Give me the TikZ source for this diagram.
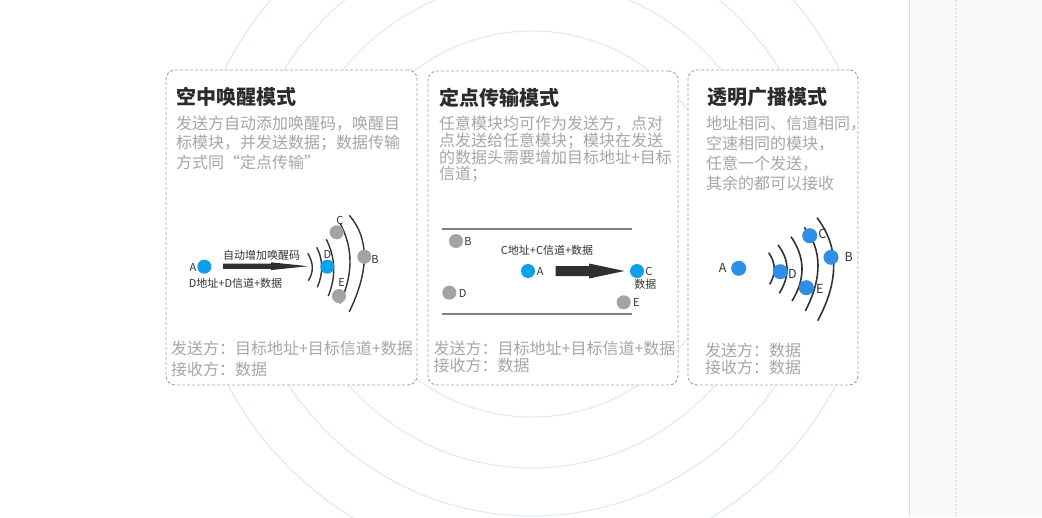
\documentclass[tikz,border=0pt]{standalone}
\usepackage{fontspec}
\setmainfont{Noto Sans CJK SC}
\usetikzlibrary{calc}
\definecolor{bgcirc}{HTML}{D8E9F8}
\definecolor{boxc}{HTML}{A3A3A3}
\definecolor{titlec}{HTML}{2B2B2B}
\definecolor{descc}{HTML}{A6A6A6}
\definecolor{labc}{HTML}{333333}
\definecolor{blueA}{HTML}{0BA0EA}
\definecolor{blueB}{HTML}{2D8FE6}
\definecolor{dotgray}{HTML}{A3A3A3}
\definecolor{linegray}{HTML}{808080}
\definecolor{sidebg}{HTML}{F9F9F9}
\definecolor{sideln}{HTML}{DEDEDE}
\definecolor{sidedot}{HTML}{E4E4E4}
\definecolor{wavec}{HTML}{333333}
\definecolor{arrc}{HTML}{303030}
\newcommand{\myfs}[1]{\fontsize{#1}{#1}\selectfont}
\newcommand{\wavearc}[4][]{%
  \coordinate (wT) at #2; \coordinate (wM) at #3; \coordinate (wB) at #4;
  \coordinate (wQ) at ($2*(wM)-0.5*(wT)-0.5*(wB)$);
  \draw[wave,#1] (wT) .. controls ($(wT)!0.6667!(wQ)$) and ($(wB)!0.6667!(wQ)$) .. (wB);}
\begin{document}
\begin{tikzpicture}[x=1pt,y=-1pt,
  panel/.style={draw=boxc, dash pattern=on 3pt off 2pt, line width=0.9pt, rounded corners=9pt, fill=white, inner sep=0pt},
  txt/.style={anchor=west, inner sep=0pt, outer sep=0pt},
  title/.style={txt, font=\myfs{20pt}\bfseries, text=titlec},
  desc/.style={txt, font=\myfs{16pt}, text=descc},
  lbl/.style={inner sep=0pt, font=\myfs{11pt}, text=labc},
  lblb/.style={inner sep=0pt, font=\myfs{12.5pt}, text=labc},
  bdot/.style={circle, fill=blueA, minimum size=14pt, inner sep=0pt},
  bdotb/.style={circle, fill=blueB, minimum size=15pt, inner sep=0pt},
  gdot/.style={circle, fill=dotgray, minimum size=14pt, inner sep=0pt},
  wave/.style={draw=wavec, line width=1.4pt}
]
\useasboundingbox (0,0) rectangle (1042,517);
\clip (0,0) rectangle (1042,517);
\fill[white] (0,0) rectangle (1042,517);
\fill[sidebg] (910,0) rectangle (1042,517);
\draw[sideln, line width=1pt] (909.5,0) -- (909.5,517);
\draw[sidedot, line width=1.5pt, dash pattern=on 1.5pt off 2.5pt] (956,0) -- (956,517);
\begin{scope}
\clip (0,0) rectangle (858,517);
\foreach \r in {193,244,292,344} \draw[bgcirc, line width=1pt] (532,224) circle[radius=\r pt];
\end{scope}

% panels
\node[panel, minimum width=251pt, minimum height=315pt] (p1) at (291.5,227.5) {};
\node[panel, minimum width=250pt, minimum height=314pt] (p2) at (553,228) {};
\node[panel, minimum width=170pt, minimum height=315pt] (p3) at (773,227.5) {};

% panel 1 texts
\node[title] (t1) at (176,96.7) {空中唤醒模式};
\node[desc] (d11) at (176,123.3) {发送方自动添加唤醒码，唤醒目};
\node[desc] (d12) at (176,143.3) {标模块，并发送数据；数据传输};
\node[desc] (d13) at (176,162.7) {方式同“定点传输”};
\node[desc] (f11) at (171,348.3) {发送方：目标地址+目标信道+数据};
\node[desc] (f12) at (171,369) {接收方：数据};

% panel 2 texts
\node[title] (t2) at (439,98.3) {定点传输模式};
\node[desc] (d21) at (439,123.3) {任意模块均可作为发送方，点对};
\node[desc] (d22) at (439,140.7) {点发送给任意模块；模块在发送};
\node[desc] (d23) at (439,157.3) {的数据头需要增加目标地址+目标};
\node[desc] (d24) at (439,174) {信道；};
\node[desc] (f21) at (433.7,348.3) {发送方：目标地址+目标信道+数据};
\node[desc] (f22) at (433.7,365) {接收方：数据};

% panel 3 texts
\node[title] (t3) at (707,96.7) {透明广播模式};
\node[desc] (d31) at (706,123.3) {地址相同、信道相同，};
\node[desc] (d32) at (706,144) {空速相同的模块，};
\node[desc] (d33) at (706,164) {任意一个发送，};
\node[desc] (d34) at (706,183.3) {其余的都可以接收};
\node[desc] (f31) at (705,350.7) {发送方：数据};
\node[desc] (f32) at (705,367.7) {接收方：数据};

% panel 1 diagram
\wavearc{(307.7,253.3)}{(312.3,267.3)}{(308.3,280.7)}
\wavearc{(316.7,247.3)}{(321.7,266.7)}{(317.3,287.3)}
\wavearc{(326.3,239.3)}{(333.7,267.3)}{(328.3,296)}
\wavearc{(340,223.3)}{(350,261.7)}{(340,303.3)}
\wavearc{(349.3,215.3)}{(364.3,256.7)}{(349.3,311.7)}
\fill[arrc] (223,263.6) -- (271,263.6) -- (271,262.3) -- (308,266.2) -- (271,270.1) -- (271,268.8) -- (223,268.8) -- cycle;
\node[bdot] (a1) at (204.3,266.7) {};
\node[lbl] (la1) at (193,267.5) {A};
\node[gdot] (c1) at (336.7,232.3) {};
\node[lbl] (lc1) at (340,220.7) {C};
\node[gdot] (b1) at (364.3,256.7) {};
\node[lbl] (lb1) at (375,259.3) {B};
\node[bdot] (dd1) at (327.3,266.7) {};
\node[lbl] (ld1) at (327.5,254.5) {D};
\node[gdot] (e1) at (339,296) {};
\node[lbl] (le1) at (341.7,282) {E};
\node[lbl] (m11) at (261.7,255) {自动增加唤醒码};
\node[lbl] (m12) at (235.5,283.3) {D地址+D信道+数据};

% panel 2 diagram
\coordinate (l2a) at (442,229); \coordinate (l2b) at (631.5,229);
\coordinate (l2c) at (442,314); \coordinate (l2d) at (631.5,314);
\draw[linegray, line width=2pt] (l2a) -- (l2b);
\draw[linegray, line width=2pt] (l2c) -- (l2d);
\fill[arrc] (555.5,266) -- (589,266) -- (589,263.5) -- (624.5,271) -- (589,278.5) -- (589,276) -- (555.5,276) -- cycle;
\node[gdot] (b2) at (456,241) {};
\node[lbl] (lb2) at (468,241.7) {B};
\node[gdot] (d2) at (449.3,292.7) {};
\node[lbl] (ld2) at (462.7,293.3) {D};
\node[bdot] (a2) at (528,271) {};
\node[lbl] (la2) at (540.3,271) {A};
\node[bdot] (c2) at (637,271) {};
\node[lbl] (lc2) at (649,271) {C};
\node[lbl] (m22) at (645.3,284.3) {数据};
\node[gdot] (e2) at (623.7,302.3) {};
\node[lbl] (le2) at (636.3,302.3) {E};
\node[lbl] (m21) at (547,250.7) {C地址+C信道+数据};

% panel 3 diagram
\wavearc[line width=1.6pt]{(768.7,252.7)}{(774.3,268.3)}{(769.7,284.3)}
\wavearc[line width=1.6pt]{(778,245)}{(787,268.3)}{(779.3,293.3)}
\wavearc[line width=1.6pt]{(791,236.7)}{(802,268.3)}{(792,301)}
\wavearc[line width=1.6pt]{(804.3,227.3)}{(818,265)}{(805.3,311)}
\wavearc[line width=1.6pt]{(817,217.7)}{(833.7,265)}{(817.7,320.7)}
\node[bdotb] (a3) at (738.7,268.3) {};
\node[lblb] (la3) at (722.7,267.7) {A};
\node[bdotb] (d3) at (780.3,271.7) {};
\node[lblb] (ld3) at (792.3,274.3) {D};
\node[bdotb] (c3) at (809.7,235.7) {};
\node[lblb] (lc3) at (822.3,234.3) {C};
\node[bdotb] (b3) at (831,257.3) {};
\node[lblb] (lb3) at (848.7,256.7) {B};
\node[bdotb] (e3) at (806.3,287.7) {};
\node[lblb] (le3) at (819.7,289) {E};
\end{tikzpicture}
\end{document}
